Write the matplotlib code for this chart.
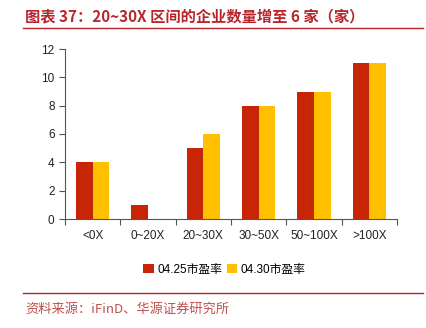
import matplotlib.pyplot as plt
import numpy as np
from matplotlib.lines import Line2D

plt.rcParams['font.family'] = ['Liberation Sans', 'Noto Sans CJK SC', 'DejaVu Sans']

categories = ['<0X', '0~20X', '20~30X', '30~50X', '50~100X', '>100X']
pe_0425 = [4, 1, 5, 8, 9, 11]
pe_0430 = [4, 0, 6, 8, 9, 11]
series_names = ['04.25市盈率', '04.30市盈率']
colors = ['#C82506', '#FFC000']

fig = plt.figure(figsize=(4.26, 3.28), dpi=100)
ax = fig.add_axes([65 / 426, 1 - 219 / 328, 332 / 426, 170 / 328])

x = np.arange(len(categories))
w = 0.3
ax.bar(x - w / 2, pe_0425, w, color=colors[0], label=series_names[0])
ax.bar(x + w / 2, pe_0430, w, color=colors[1], label=series_names[1])

ax.set_xlim(-0.5, len(categories) - 0.5)
ax.set_ylim(0, 12)
ax.set_yticks(range(0, 13, 2))
ax.set_xticks(np.arange(-0.5, len(categories), 1))
ax.set_xticklabels([])
ax.set_xticks(x, minor=True)
ax.set_xticklabels(categories, minor=True)
ax.tick_params(axis='x', which='minor', length=0, pad=8, labelsize=8.5, colors='#222222')
ax.tick_params(axis='x', which='major', length=4, color='#555555')
ax.tick_params(axis='y', length=4, labelsize=8.5, colors='#222222', color='#555555')
for s in ['top', 'right']:
    ax.spines[s].set_visible(False)
for s in ['left', 'bottom']:
    ax.spines[s].set_color('#555555')
    ax.spines[s].set_linewidth(0.8)

ax.legend(loc='upper center', bbox_to_anchor=(0.48, -0.2), ncol=2, frameon=False,
          fontsize=8.5, handlelength=0.9, handleheight=0.9, handletextpad=0.3,
          columnspacing=0.4)

title_font = ['Noto Sans CJK SC', 'DejaVu Sans']
fig.text(25 / 426, 1 - 16 / 328, '图表 37：20~30X 区间的企业数量增至 6 家（家）',
         color='#B8262C', fontsize=11, fontweight='bold', va='center', family=title_font)
fig.add_artist(Line2D([23 / 426, 423 / 426], [1 - 28 / 328] * 2, color='#B8262C', lw=1))
fig.add_artist(Line2D([23 / 426, 423 / 426], [1 - 293 / 328] * 2, color='#B8262C', lw=1))
fig.text(25 / 426, 1 - 309 / 328, '资料来源：iFinD、华源证券研究所',
         color='#C0504D', fontsize=9.5, va='center', family=title_font)

fig.savefig('out.png', dpi=100)
